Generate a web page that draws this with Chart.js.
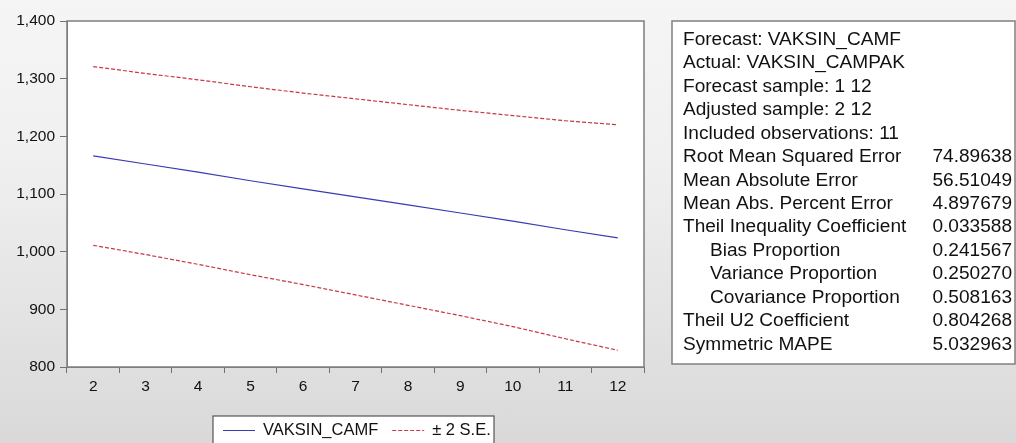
<!DOCTYPE html>
<html lang="en">
<head>
<meta charset="UTF-8">
<title>Forecast: VAKSIN_CAMF</title>
<script src="https://cdn.jsdelivr.net/npm/chart.js"></script>
<style>
    html, body { margin: 0; padding: 0; }
    body {
        width: 1016px;
        height: 443px;
        overflow: hidden;
        background: linear-gradient(#f5f5f5 0%, #f0f0f0 35%, #d9d9d9 100%);
    }
    #wrap { position: relative; width: 1016px; height: 443px; }
</style>
</head>
<body>
<div id="wrap"><canvas id="fc"></canvas></div>
<script>
// forecast periods (x axis)
const periods = ['2', '3', '4', '5', '6', '7', '8', '9', '10', '11', '12'];
// point forecast VAKSIN_CAMF
const forecast = [1166, 1152, 1138, 1123, 1109, 1095, 1081, 1067, 1053, 1038, 1024];
// forecast +/- 2 standard errors
const upperBand = [1321, 1309, 1298, 1286, 1275, 1265, 1255, 1245, 1236, 1227, 1220];
const lowerBand = [1011, 995, 978, 960, 943, 925, 907, 889, 870, 849, 829];
// y axis range
const yMin = 800, yMax = 1400, yStep = 100;

// forecast evaluation table
const statLabels = [
    'Forecast: VAKSIN_CAMF',
    'Actual: VAKSIN_CAMPAK',
    'Forecast sample: 1 12',
    'Adjusted sample: 2 12',
    'Included observations: 11',
    'Root Mean Squared Error',
    'Mean Absolute Error',
    'Mean Abs. Percent Error',
    'Theil Inequality Coefficient',
    'Bias Proportion',
    'Variance Proportion',
    'Covariance Proportion',
    'Theil U2 Coefficient',
    'Symmetric MAPE'
];
const statValues = ['', '', '', '', '', '74.89638', '56.51049', '4.897679', '0.033588',
    '0.241567', '0.250270', '0.508163', '0.804268', '5.032963'];

const FONT = '"Liberation Sans", Arial, sans-serif';
const blue = 'rgb(58, 58, 178)';
const red = 'rgb(200, 55, 70)';

// white plot area, frame, stats box and legend box
const frame = {
    id: 'frame',
    beforeDraw(chart) {
        const { ctx, chartArea: a } = chart;
        ctx.save();
        ctx.fillStyle = '#fff';
        ctx.fillRect(a.left, a.top, a.right - a.left, a.bottom - a.top);
        ctx.restore();
    },
    afterDraw(chart) {
        const { ctx, chartArea: a } = chart;
        ctx.save();
        ctx.strokeStyle = '#7d7d7d';
        ctx.lineWidth = 1.5;
        ctx.strokeRect(a.left, a.top, a.right - a.left, a.bottom - a.top);

        // stats table
        const bx = a.right + 28, by = a.top, bw = 1015 - bx, bh = 343;
        ctx.fillStyle = '#fff';
        ctx.fillRect(bx, by, bw, bh);
        ctx.strokeStyle = '#808080';
        ctx.lineWidth = 1.5;
        ctx.strokeRect(bx, by, bw, bh);
        ctx.fillStyle = '#111';
        ctx.font = '17.5px ' + FONT;
        ctx.textBaseline = 'middle';
        statLabels.forEach((t, i) => {
            const y = by + 19 + i * 23.45;
            const indent = (i >= 9 && i <= 11) ? 27 : 0;
            ctx.save();
            ctx.translate(bx + 11 + indent, y);
            ctx.scale(1.09, 1);
            ctx.textAlign = 'left';
            ctx.fillText(t, 0, 0);
            ctx.restore();
            if (statValues[i]) {
                ctx.save();
                ctx.translate(bx + bw - 3, y);
                ctx.scale(1.09, 1);
                ctx.textAlign = 'right';
                ctx.fillText(statValues[i], 0, 0);
                ctx.restore();
            }
        });

        // legend
        const lx = 213, ly = 416, lw = 281, lh = 40;
        ctx.fillStyle = '#fff';
        ctx.fillRect(lx, ly, lw, lh);
        ctx.strokeStyle = '#555';
        ctx.lineWidth = 1.2;
        ctx.strokeRect(lx, ly, lw, lh);
        const ds = chart.data.datasets;
        const cy = 430;
        ctx.font = '16.5px ' + FONT;
        ctx.textAlign = 'left';
        ctx.fillStyle = '#111';
        let x = lx + 10;
        [ds[0], ds[1]].forEach((d) => {
            ctx.strokeStyle = d.borderColor;
            ctx.lineWidth = 1;
            ctx.setLineDash(d.borderDash || []);
            ctx.beginPath();
            ctx.moveTo(x, cy + 0.5);
            ctx.lineTo(x + 32, cy + 0.5);
            ctx.stroke();
            ctx.setLineDash([]);
            ctx.fillText(d.label, x + 40, cy);
            x += 40 + ctx.measureText(d.label).width + 14;
        });
        ctx.restore();
    }
};

new Chart(document.getElementById('fc'), {
    type: 'line',
    data: {
        labels: periods,
        datasets: [
            { label: 'VAKSIN_CAMF', data: forecast, borderColor: blue, borderWidth: 1.2 },
            { label: '± 2 S.E.', data: upperBand, borderColor: red, borderWidth: 1.2, borderDash: [4, 2] },
            { label: '± 2 S.E.', data: lowerBand, borderColor: red, borderWidth: 1.2, borderDash: [4, 2] }
        ]
    },
    options: {
        responsive: true,
        maintainAspectRatio: false,
        animation: false,
        layout: { padding: { left: 0, top: 21, right: 372, bottom: 0 } },
        elements: { point: { radius: 0 }, line: { tension: 0 } },
        plugins: { legend: { display: false }, tooltip: { enabled: false } },
        scales: {
            x: {
                offset: true,
                grid: { offset: true, drawOnChartArea: false, tickLength: 6, color: '#707070' },
                border: { color: '#7d7d7d' },
                ticks: { color: '#111', padding: 4, maxRotation: 0, font: { family: FONT, size: 15.5 } },
                afterFit(s) { s.height = 76; }
            },
            y: {
                min: yMin,
                max: yMax,
                grid: { drawOnChartArea: false, tickLength: 7, color: '#707070' },
                border: { color: '#7d7d7d' },
                ticks: { stepSize: yStep, color: '#111', padding: 5, font: { family: FONT, size: 15.5 } },
                afterFit(s) { s.width = 67; }
            }
        }
    },
    plugins: [frame]
});
</script>
</body>
</html>
